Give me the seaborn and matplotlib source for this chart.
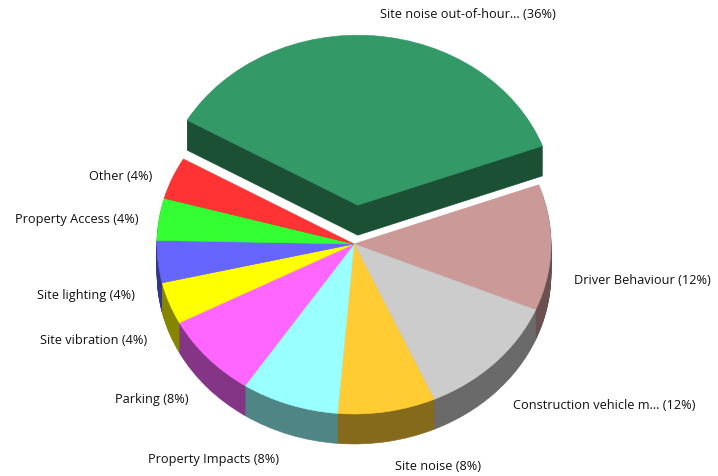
import matplotlib
matplotlib.use("Agg")
import matplotlib.pyplot as plt
import numpy as np
import seaborn as sns

labels = ["Site noise out-of-hour...", "Driver Behaviour", "Construction vehicle m...", "Site noise",
          "Property Impacts", "Parking", "Site vibration", "Site lighting", "Property Access", "Other"]
values = [36, 12, 12, 8, 8, 8, 4, 4, 4, 4]
colors = ["#339966", "#CC9999", "#CCCCCC", "#FFCC33", "#99FFFF",
          "#FF66FF", "#FFFF00", "#6666FF", "#33FF33", "#FF3333"]
explode = [0.229, 0, 0, 0, 0, 0, 0, 0, 0, 0]

# where the labels sit, in pixels of the picture (left edge, middle)
label_x = [380, 574, 513, 395, 148, 115, 40, 37, 15, 89]
label_y = [14, 281, 406, 467, 460, 400, 341, 296, 219, 176]

W, H = 718, 477
cx, cy = 354, 245
rx, ry = 197, 170
depth_px = 30

sns.set_theme(style="white")
plt.rcParams['font.family'] = ['Open Sans', 'DejaVu Sans']

fig = plt.figure(figsize=(W / 100, H / 100), dpi=100)
ax = fig.add_axes([0, 0, 1, 1])

dark = [tuple(np.array(matplotlib.colors.to_rgb(c)) * 0.52) for c in colors]


def draw_layer(cols, y, z_normal, z_explode):
    wedges, _ = ax.pie(values, colors=cols, startangle=150, counterclock=False, explode=explode,
                       center=(0, y), radius=1, frame=False)
    for i, w in enumerate(wedges):
        # same colour edge, otherwise white hairlines show between the slices
        w.set_edgecolor(cols[i])
        w.set_linewidth(0.4)
        w.set_zorder(z_explode if explode[i] > 0 else z_normal)


# side wall: the same pie stacked pixel by pixel
for d in range(depth_px, 0, -1):
    draw_layer(dark, -d / ry, 1, 3)
draw_layer(colors, 0, 2, 4)

ax.set_aspect('auto')
ax.set_xlim(-cx / rx, (W - cx) / rx)
ax.set_ylim((cy - H) / ry, cy / ry)
ax.axis('off')

for name, v, x, y in zip(labels, values, label_x, label_y):
    fig.text(x / W, 1 - y / H, f"{name} ({v}%)", fontsize=9.2, color="#111111", ha='left', va='center')

fig.savefig("out.png", dpi=100, facecolor="white")
